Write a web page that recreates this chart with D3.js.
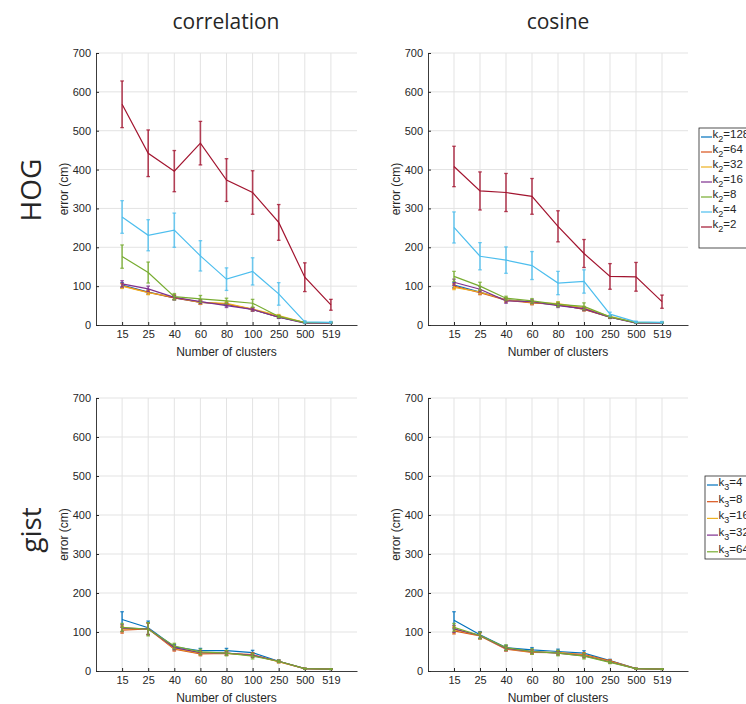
<!DOCTYPE html>
<html>
<head>
<meta charset="utf-8">
<script src="https://cdn.jsdelivr.net/npm/d3@7"></script>
<style>
  body { margin: 0; background: #fff; }
  svg { display: block; }
  text { font-family: "Liberation Sans", Arial, sans-serif; fill: #262626; }
</style>
</head>
<body>
<div id="chart"></div>
<script>
// cluster counts on the x axis
var categories = ["15", "25", "40", "60", "80", "100", "250", "500", "519"];
var yTicks = [0, 100, 200, 300, 400, 500, 600, 700];
var k2Labels = ["128", "64", "32", "16", "8", "4", "2"];
var k3Labels = ["4", "8", "16", "32", "64"];
var colors = ["#0072BD", "#D95319", "#EDB120", "#7E2F8E", "#77AC30", "#4DBEEE", "#A2142F"];

// HOG, correlation  (one row per k2)
var hogCorrMean = [
  [103, 85, 70, 59, 53, 40, 20, 6, 6],
  [101, 84, 70, 58, 54, 40, 21, 6, 6],
  [100, 83, 72, 58, 56, 41, 24, 6, 6],
  [106, 93, 71, 60, 50, 40, 20, 5, 5],
  [176, 135, 73, 67, 62, 56, 22, 6, 6],
  [278, 231, 244, 178, 118, 138, 80, 8, 7],
  [568, 442, 396, 468, 373, 341, 264, 123, 52]
];
var hogCorrErr = [
  [6, 5, 5, 5, 4, 4, 3, 1, 1],
  [6, 5, 5, 5, 4, 4, 3, 1, 1],
  [6, 5, 6, 5, 5, 4, 3, 1, 1],
  [8, 7, 6, 5, 5, 4, 3, 1, 1],
  [30, 27, 8, 9, 7, 10, 3, 1, 1],
  [42, 40, 44, 39, 29, 35, 29, 3, 2],
  [60, 60, 53, 56, 55, 56, 46, 37, 14]
];
// HOG, cosine
var hogCosMean = [
  [103, 85, 65, 58, 52, 41, 20, 6, 6],
  [100, 83, 64, 57, 53, 40, 20, 6, 6],
  [97, 85, 65, 58, 55, 44, 22, 6, 6],
  [110, 92, 62, 60, 50, 42, 20, 5, 5],
  [125, 100, 69, 62, 53, 48, 21, 6, 6],
  [251, 177, 167, 153, 108, 112, 28, 8, 7],
  [408, 345, 341, 331, 254, 184, 125, 124, 60]
];
var hogCosErr = [
  [6, 5, 5, 5, 4, 4, 3, 1, 1],
  [6, 5, 5, 5, 4, 4, 3, 1, 1],
  [6, 5, 5, 5, 5, 4, 3, 1, 1],
  [8, 7, 6, 5, 5, 4, 3, 1, 1],
  [13, 10, 5, 6, 6, 9, 3, 1, 1],
  [40, 35, 34, 36, 30, 30, 5, 2, 2],
  [52, 49, 49, 46, 40, 36, 33, 37, 17]
];
// gist, correlation (one row per k3)
var gistCorrMean = [
  [132, 111, 62, 52, 52, 47, 25, 6, 5],
  [105, 108, 56, 44, 45, 42, 24, 6, 5],
  [108, 109, 58, 46, 46, 40, 24, 6, 5],
  [110, 108, 60, 47, 46, 40, 25, 6, 5],
  [112, 107, 64, 49, 46, 38, 25, 6, 5]
];
var gistCorrErr = [
  [20, 17, 6, 6, 6, 6, 3, 1, 1],
  [8, 15, 5, 5, 5, 5, 3, 1, 1],
  [8, 15, 5, 5, 5, 5, 3, 1, 1],
  [9, 15, 6, 5, 5, 5, 3, 1, 1],
  [10, 17, 7, 7, 7, 7, 3, 1, 1]
];
// gist, cosine
var gistCosMean = [
  [130, 93, 60, 54, 50, 46, 27, 6, 5],
  [103, 90, 56, 48, 47, 42, 26, 6, 5],
  [106, 91, 57, 49, 47, 40, 24, 6, 5],
  [108, 91, 58, 50, 46, 39, 23, 6, 5],
  [112, 91, 60, 50, 46, 38, 22, 6, 5]
];
var gistCosErr = [
  [22, 8, 6, 6, 6, 6, 3, 1, 1],
  [8, 8, 5, 5, 5, 5, 3, 1, 1],
  [8, 8, 5, 5, 5, 5, 3, 1, 1],
  [9, 8, 6, 5, 5, 5, 3, 1, 1],
  [10, 8, 7, 7, 7, 7, 3, 1, 1]
];

var svg = d3.select("#chart").append("svg")
  .attr("width", 746)
  .attr("height", 704);

function panel(left, right, top, bottom, means, errs) {
  var x = d3.scaleLinear().domain([0, 10]).range([left, right]);
  var y = d3.scaleLinear().domain([0, 700]).range([bottom, top]);
  var g = svg.append("g");

  // grid
  g.selectAll("line.vgrid").data(categories).enter().append("line")
    .attr("x1", function(d, i) { return x(i + 1); })
    .attr("x2", function(d, i) { return x(i + 1); })
    .attr("y1", y(0)).attr("y2", y(700))
    .attr("stroke", "#e3e3e3").attr("stroke-width", 1);
  g.selectAll("line.hgrid").data(yTicks.slice(1)).enter().append("line")
    .attr("x1", x(0)).attr("x2", x(10))
    .attr("y1", function(d) { return y(d); })
    .attr("y2", function(d) { return y(d); })
    .attr("stroke", "#e3e3e3").attr("stroke-width", 1);

  var xAxis = d3.axisBottom(x)
    .tickValues(d3.range(1, categories.length + 1))
    .tickFormat(function(d) { return categories[d - 1]; })
    .tickSize(-3).tickPadding(5).tickSizeOuter(0);
  var gx = g.append("g").attr("transform", "translate(0," + bottom + ")").call(xAxis);

  var yAxis = d3.axisLeft(y).tickValues(yTicks).tickSize(-3).tickPadding(5).tickSizeOuter(0);
  var gy = g.append("g").attr("transform", "translate(" + left + ",0)").call(yAxis);

  [gx, gy].forEach(function(a) {
    a.select(".domain").attr("stroke", "#262626").attr("stroke-width", 0.9);
    a.selectAll(".tick line").attr("stroke", "#262626");
    a.selectAll(".tick text").attr("fill", "#262626")
      .style("font-family", "Liberation Sans, Arial, sans-serif").style("font-size", "11px");
  });

  g.append("text")
    .attr("x", (left + right) / 2).attr("y", bottom + 31)
    .attr("text-anchor", "middle").style("font-size", "12px")
    .text("Number of clusters");
  g.append("text")
    .attr("transform", "translate(" + (left - 28) + "," + ((top + bottom) / 2) + ") rotate(-90)")
    .attr("text-anchor", "middle").style("font-size", "12px")
    .text("error (cm)");

  var line = d3.line()
    .x(function(d, i) { return x(i + 1); })
    .y(function(d) { return y(d); });

  means.forEach(function(m, s) {
    var c = colors[s];
    var sg = g.append("g");
    var e = errs[s];
    var bars = sg.selectAll("g.eb").data(m).enter().append("g")
      .attr("stroke", c).attr("stroke-opacity", 0.8);
    bars.append("line")
      .attr("x1", function(d, i) { return x(i + 1); })
      .attr("x2", function(d, i) { return x(i + 1); })
      .attr("y1", function(d, i) { return y(d - e[i]); })
      .attr("y2", function(d, i) { return y(d + e[i]); })
      .attr("stroke-width", 1.6);
    bars.append("line")
      .attr("x1", function(d, i) { return x(i + 1) - 1.8; })
      .attr("x2", function(d, i) { return x(i + 1) + 1.8; })
      .attr("y1", function(d, i) { return y(d + e[i]); })
      .attr("y2", function(d, i) { return y(d + e[i]); })
      .attr("stroke-width", 1.3);
    bars.append("line")
      .attr("x1", function(d, i) { return x(i + 1) - 1.8; })
      .attr("x2", function(d, i) { return x(i + 1) + 1.8; })
      .attr("y1", function(d, i) { return y(d - e[i]); })
      .attr("y2", function(d, i) { return y(d - e[i]); })
      .attr("stroke-width", 1.3);
    sg.append("path").datum(m)
      .attr("d", line)
      .attr("fill", "none")
      .attr("stroke", c)
      .attr("stroke-width", 1.2);
  });
}

function legend(lx, ly, h, step, sub, labels) {
  var g = svg.append("g");
  g.append("rect")
    .attr("x", lx).attr("y", ly).attr("width", 80).attr("height", h)
    .attr("fill", "#fff").attr("stroke", "#262626").attr("stroke-width", 0.8);
  labels.forEach(function(l, i) {
    var yy = ly + 9 + i * step;
    g.append("line")
      .attr("x1", lx + 2).attr("x2", lx + 13)
      .attr("y1", yy).attr("y2", yy)
      .attr("stroke", colors[i]).attr("stroke-width", 1.2);
    var t = g.append("text").attr("x", lx + 13.5).attr("y", yy + 1).style("font-size", "11.5px");
    t.append("tspan").text("k");
    t.append("tspan").attr("dy", 4).style("font-size", "9px").text(sub);
    t.append("tspan").attr("dy", -4).text("=" + l);
  });
}

panel(96, 357, 53, 325, hogCorrMean, hogCorrErr);
panel(428, 688, 53, 325, hogCosMean, hogCosErr);
panel(96, 357, 398, 671, gistCorrMean, gistCorrErr);
panel(428, 688, 398, 671, gistCosMean, gistCosErr);

legend(699, 128, 120, 15, "2", k2Labels);
legend(705, 476, 83, 16.7, "3", k3Labels);

// column and row titles
var titleFont = "'Open Sans', 'Noto Sans', sans-serif";
svg.append("text").attr("x", 226).attr("y", 29).attr("text-anchor", "middle")
  .style("font-family", titleFont).style("font-size", "21px").attr("fill", "#000").text("correlation");
svg.append("text").attr("x", 558).attr("y", 29).attr("text-anchor", "middle")
  .style("font-family", titleFont).style("font-size", "21px").attr("fill", "#000").text("cosine");
svg.append("text").attr("transform", "translate(41,190) rotate(-90)").attr("text-anchor", "middle")
  .style("font-family", titleFont).style("font-size", "28px").attr("fill", "#000").text("HOG");
svg.append("text").attr("transform", "translate(41,530) rotate(-90)").attr("text-anchor", "middle")
  .style("font-family", titleFont).style("font-size", "28px").attr("fill", "#000").text("gist");
</script>
</body>
</html>
